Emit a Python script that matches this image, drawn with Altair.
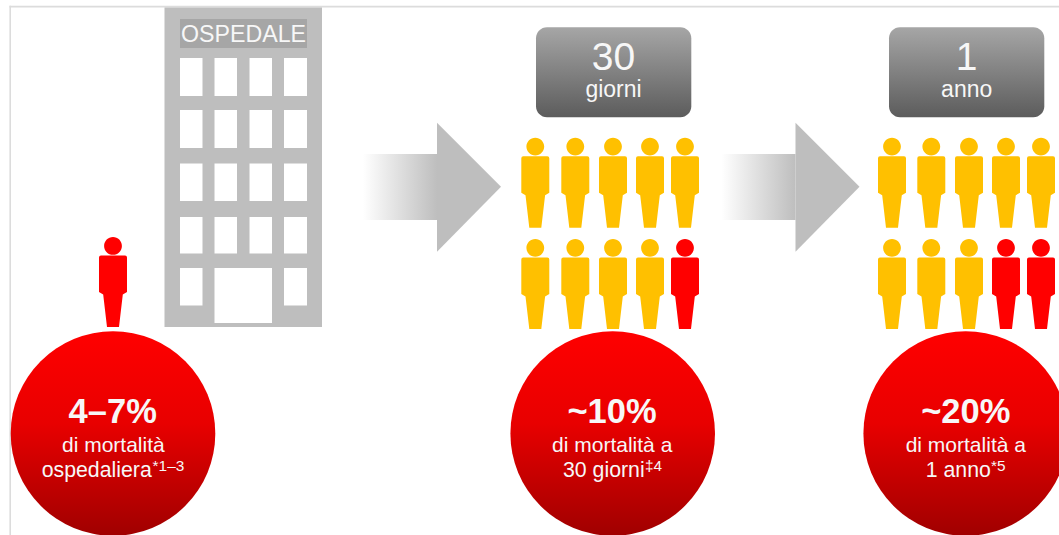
import altair as alt
import pandas as pd

# --- Content ------------------------------------------------------------
panel_names = ["ospedale", "30 giorni", "1 anno"]
approx_mortality_pct = [10, 20]          # share of each group of ten people drawn in red
big_labels = ["4–7%", "~10%", "~20%"]
line_one = ["di mortalità", "di mortalità a", "di mortalità a"]
line_two = ["ospedaliera", "30 giorni", "1 anno"]
footnote_marks = ["*1–3", "‡4", "*5"]
badge_numbers = ["30", "1"]
badge_units = ["giorni", "anno"]
hospital_sign = "OSPEDALE"

# --- Diagram layout, in canvas units (the scales below map them 1:1) ----
W, H = 1059, 535
FONT = "Liberation Sans"
RED, AMBER, GREY, SIGN_GREY, TEXT = "#ff0000", "#ffc000", "#bebebe", "#a6a6a6", "#f7f7f7"

circle_cx = [113.0, 612.7, 965.7]
circle_cy = 433.5
circle_d = 204.6

group_cols = [[535.3, 575.3, 613.0, 650.0, 685.0], [892.0, 931.3, 969.0, 1006.0, 1041.0]]
group_rows = [182.7, 284.0]

window_cols = [(180, 202.5), (214.5, 237), (249.5, 272), (284, 307)]
window_rows = [(58, 96), (110, 148), (163.5, 201), (217, 253.5)]
ground_row = (268, 305.5)
door = (214.5, 272, 268, 323)

arrow_starts = [363, 721.5]

x = alt.X("x:Q", scale=alt.Scale(domain=[0, W], range=[0, W]), axis=None)
y = alt.Y("y:Q", scale=alt.Scale(domain=[0, H], range=[0, H]), axis=None)
x2 = alt.X2("x2:Q")
y2 = alt.Y2("y2:Q")


def table(**columns):
    return alt.Data(values=pd.DataFrame(columns).to_dict("records"))


def rects(rows):
    return pd.DataFrame(rows, columns=["x", "x2", "y", "y2"]).to_dict("records")


# Frame: thin lines along the top and the left edge
frame = alt.Chart(alt.Data(values=rects([(9.5, W, 5.8, 7.4), (9.4, 11, 5.8, H)]))).mark_rect(
    color="#dcdcdc"
).encode(x=x, x2=x2, y=y, y2=y2)

# Hospital block with its sign, windows and door
building = alt.Chart(alt.Data(values=rects([(164.5, 322, 7.5, 327)]))).mark_rect(color=GREY).encode(
    x=x, x2=x2, y=y, y2=y2
)
sign = alt.Chart(alt.Data(values=rects([(180, 307, 19, 48)]))).mark_rect(color=SIGN_GREY).encode(
    x=x, x2=x2, y=y, y2=y2
)
openings = [(c0, c1, r0, r1) for (r0, r1) in window_rows for (c0, c1) in window_cols]
openings += [(window_cols[i][0], window_cols[i][1], ground_row[0], ground_row[1]) for i in (0, 3)]
openings.append(door)
windows = alt.Chart(alt.Data(values=rects(openings))).mark_rect(color="#ffffff").encode(
    x=x, x2=x2, y=y, y2=y2
)

# Progress arrows: fading shaft plus triangular head
shaft_fade = alt.Gradient(
    gradient="linear", x1=0, x2=1, y1=0, y2=0,
    stops=[alt.GradientStop(offset=0, color="#ffffff"), alt.GradientStop(offset=1, color=GREY)],
)
shafts = alt.Chart(
    alt.Data(values=rects([(s, s + 74, 154, 220) for s in arrow_starts]))
).mark_rect(fill=shaft_fade).encode(x=x, x2=x2, y=y, y2=y2)
heads = []
for s in arrow_starts:
    heads.append(
        alt.Chart(table(x=[s + 74, s + 138], y=[122.7, 186.7], y2=[251.7, 186.7])).mark_area(color=GREY).encode(
            x=x, y=y, y2=y2
        )
    )

# Time badges
badge_fade = alt.Gradient(
    gradient="linear", x1=0, x2=0, y1=0, y2=1,
    stops=[alt.GradientStop(offset=0, color="#a6a6a6"), alt.GradientStop(offset=1, color="#5c5c5c")],
)
badges = alt.Chart(
    alt.Data(values=rects([(536, 691.3, 27.3, 117.3), (889, 1044.3, 27.3, 117.3)]))
).mark_rect(fill=badge_fade, cornerRadius=11).encode(x=x, x2=x2, y=y, y2=y2)

# Red summary discs
disc_fade = alt.Gradient(
    gradient="linear", x1=0, x2=0, y1=0, y2=1,
    stops=[
        alt.GradientStop(offset=0, color="#ff0000"),
        alt.GradientStop(offset=0.45, color="#e80000"),
        alt.GradientStop(offset=1, color="#a00000"),
    ],
)
discs = alt.Chart(table(x=circle_cx, y=[circle_cy] * 3, name=panel_names)).mark_point(
    shape="circle", filled=True, fill=disc_fade, size=circle_d ** 2, opacity=1, strokeWidth=0
).encode(x=x, y=y)

# Person pictogram: symbol path in +/-1 units, drawn 90 px tall
U = 45.0


def p(px, py):
    return f"{px / U:.4f},{py / U:.4f}"


r_head = 8.9
person_path = (
    f"M{p(r_head, -36.1)} A{r_head / U:.4f},{r_head / U:.4f} 0 1 1 {p(-r_head, -36.1)} "
    f"A{r_head / U:.4f},{r_head / U:.4f} 0 1 1 {p(r_head, -36.1)} Z "
    f"M{p(-12, -26.5)} L{p(12, -26.5)} Q{p(14, -26.5)} {p(14, -24.5)} L{p(14, 10)} "
    f"L{p(9.8, 12.5)} L{p(6, 45)} L{p(-6, 45)} L{p(-9.8, 12.5)} L{p(-14, 10)} "
    f"L{p(-14, -24.5)} Q{p(-14, -26.5)} {p(-12, -26.5)} Z"
)

people = [{"x": circle_cx[0], "y": 282.0, "stato": "decesso"}]
for cols, pct in zip(group_cols, approx_mortality_pct):
    red_count = round(pct / 100 * 10)
    for r, row_y in enumerate(group_rows):
        for c, col_x in enumerate(cols):
            index = r * 5 + c
            people.append({"x": col_x, "y": row_y, "stato": "decesso" if index >= 10 - red_count else "vivo"})

figures = alt.Chart(alt.Data(values=people)).mark_point(
    shape=person_path, filled=True, size=(2 * U) ** 2, opacity=1, strokeWidth=0
).encode(
    x=x,
    y=y,
    fill=alt.Fill("stato:N", scale=alt.Scale(domain=["vivo", "decesso"], range=[AMBER, RED]), legend=None),
)

# Text
plain_rows = [
    (243.5, 41.8, hospital_sign, 23.2),
    (613.5, 70.0, badge_numbers[0], 39),
    (613.5, 97.0, badge_units[0], 23),
    (966.7, 70.0, badge_numbers[1], 39),
    (966.7, 97.0, badge_units[1], 23),
    (113.3, 451.7, line_one[0], 21),
    (612.2, 451.7, line_one[1], 21),
    (965.8, 451.7, line_one[2], 21),
    (96.7, 476.7, line_two[0], 21.3),
    (603.8, 476.7, line_two[1], 21.3),
    (958.3, 476.7, line_two[2], 21.3),
]
plain = alt.Chart(
    alt.Data(values=pd.DataFrame(plain_rows, columns=["x", "y", "t", "s"]).to_dict("records"))
).mark_text(font=FONT, align="center", baseline="alphabetic", color=TEXT).encode(
    x=x, y=y, text="t:N", size=alt.Size("s:Q", scale=None, legend=None)
)
bold = alt.Chart(table(x=[112.7, 612.0, 965.8], y=[422.7] * 3, t=big_labels)).mark_text(
    font=FONT, fontWeight="bold", fontSize=34.5, align="center", baseline="alphabetic", color=TEXT
).encode(x=x, y=y, text="t:N")
notes = alt.Chart(table(x=[152.6, 645.0, 991.0], y=[471.0] * 3, t=footnote_marks)).mark_text(
    font=FONT, fontSize=15.4, align="left", baseline="alphabetic", color=TEXT
).encode(x=x, y=y, text="t:N")

chart = alt.layer(
    frame, building, sign, windows, shafts, *heads, badges, figures, discs, plain, bold, notes
).properties(
    width=W, height=H, padding=0, autosize=alt.AutoSizeParams(type="none"), background="#ffffff"
).configure_view(stroke=None)

chart.save("out.html", embed_options={"renderer": "svg", "actions": False})
